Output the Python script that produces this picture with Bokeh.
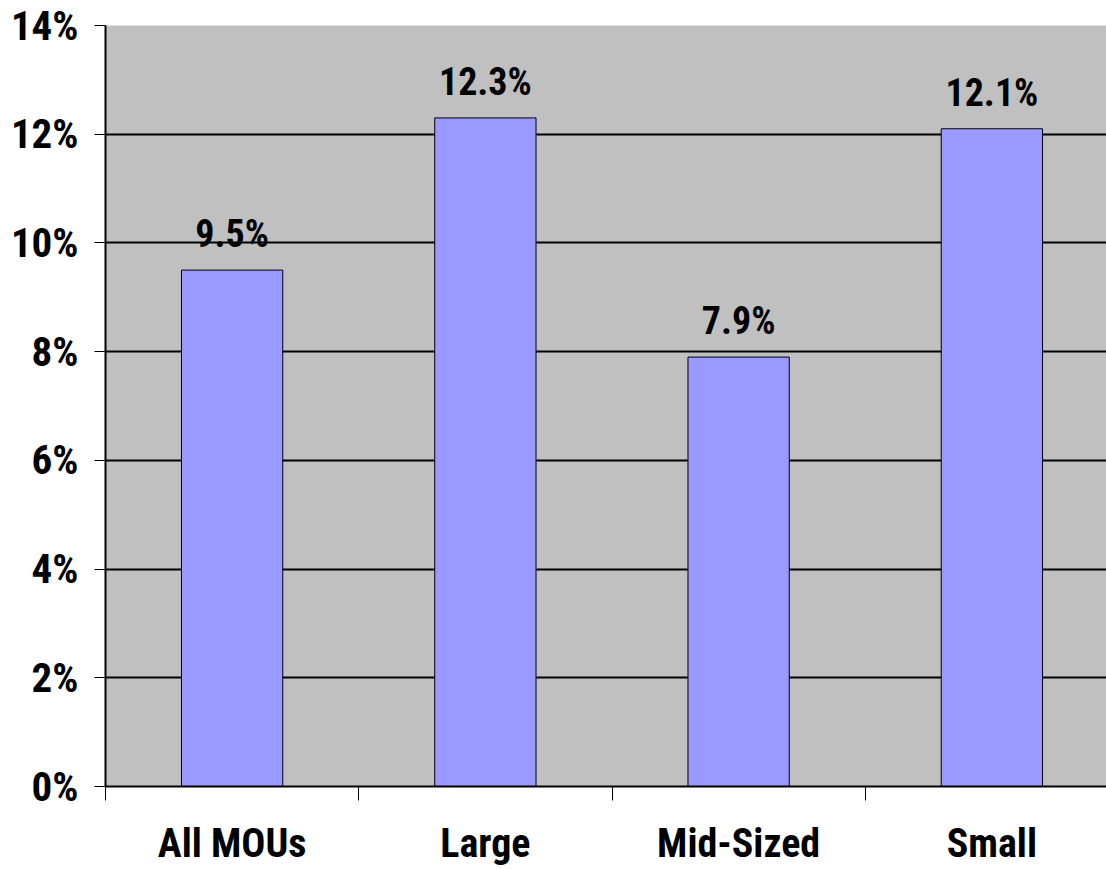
from bokeh.plotting import figure
from bokeh.models import Range1d, FixedTicker, Grid, ColumnDataSource
from bokeh.core.properties import value
from bokeh.embed import file_html
from bokeh.resources import INLINE

categories = ["All MOUs", "Large", "Mid-Sized", "Small"]
values = [9.5, 12.3, 7.9, 12.1]
value_labels = ["9.5%", "12.3%", "7.9%", "12.1%"]
y_ticks = [0, 2, 4, 6, 8, 10, 12, 14]
y_tick_labels = ["0%", "2%", "4%", "6%", "8%", "10%", "12%", "14%"]

FONT = "Roboto Condensed"

xs = [i + 0.5 for i in range(len(categories))]
src = ColumnDataSource(dict(x=xs, top=values, lab=value_labels))

p = figure(width=1106, height=869, output_backend="svg", toolbar_location=None,
           x_range=Range1d(0, 3.9526), y_range=Range1d(0, 14),
           min_border_left=105, min_border_right=0, min_border_top=25,
           min_border_bottom=83)
p.background_fill_color = "#C0C0C0"
p.border_fill_color = "white"
p.outline_line_color = None
p.xgrid.visible = False
p.ygrid.visible = False

g1 = Grid(dimension=1, ticker=FixedTicker(ticks=y_ticks[1:-1]),
          grid_line_color="black", grid_line_width=2)
g2 = Grid(dimension=1, ticker=FixedTicker(ticks=[y_ticks[-1]]),
          grid_line_color="#808080", grid_line_width=2)
p.add_layout(g1)
p.add_layout(g2)

p.vbar(x="x", top="top", width=0.4, bottom=0, source=src,
       fill_color="#9999FF", line_color="black", line_width=1)

p.text(x="x", y="top", text="lab", source=src, text_align="center",
       text_baseline="alphabetic", y_offset=-36,
       text_font=value(FONT), text_font_style="bold",
       text_font_size="38px", text_color="black")

# y axis
ya = p.yaxis[0]
ya.ticker = FixedTicker(ticks=y_ticks)
ya.major_label_overrides = {t: l for t, l in zip(y_ticks, y_tick_labels)}
ya.major_label_text_font = FONT
ya.major_label_text_font_style = "bold"
ya.major_label_text_font_size = "41px"
ya.major_label_text_color = "black"
ya.major_tick_out = 11
ya.major_tick_in = 0
ya.minor_tick_line_color = None
ya.major_tick_line_color = "black"
ya.axis_line_color = "black"
ya.axis_line_width = 2
ya.major_label_standoff = 16

# x axis
xa = p.xaxis[0]
xa.ticker = FixedTicker(ticks=xs, minor_ticks=list(range(len(categories) + 1)))
xa.major_label_overrides = {x: c for x, c in zip(xs, categories)}
xa.major_tick_line_color = None
xa.major_tick_out = 0
xa.major_tick_in = 0
xa.minor_tick_out = 14
xa.minor_tick_in = 0
xa.minor_tick_line_color = "black"
xa.axis_line_color = "black"
xa.axis_line_width = 2
xa.major_label_text_font = FONT
xa.major_label_text_font_style = "bold"
xa.major_label_text_font_size = "40px"
xa.major_label_text_color = "black"
xa.major_label_standoff = 19

open("out.html", "w").write(file_html(p, INLINE))
